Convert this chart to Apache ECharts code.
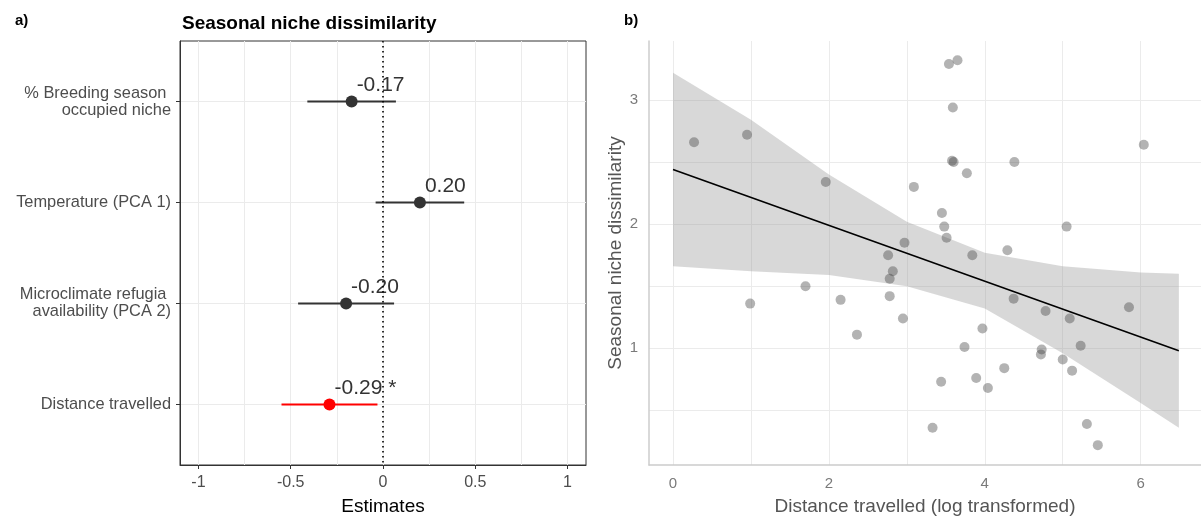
<!DOCTYPE html>
<html>
<head>
<meta charset="utf-8">
<script src="https://cdn.jsdelivr.net/npm/echarts@6/dist/echarts.min.js"></script>
<style>
  html, body { margin: 0; padding: 0; background: #fff; }
  #chart { width: 1201px; height: 517px; }
</style>
</head>
<body>
<div id="chart"></div>
<script>
// a) model estimates
const terms = [
  "% Breeding season \noccupied niche",
  "Temperature (PCA 1)",
  "Microclimate refugia \navailability (PCA 2)",
  "Distance travelled"
];
const estimates = [-0.17, 0.20, -0.20, -0.29];
const ciLow = [-0.41, -0.04, -0.46, -0.55];
const ciHigh = [0.07, 0.44, 0.06, -0.03];
const estLabels = ["-0.17", "0.20", "-0.20", "-0.29 *"];
const significant = [false, false, false, true];
const estTicks = [-1, -0.5, 0, 0.5, 1];
const estGrid = [-1, -0.75, -0.5, -0.25, 0, 0.25, 0.5, 0.75, 1];

// b) distance vs dissimilarity
const distance = [0.27, 0.95, 1.96, 0.99, 1.70, 2.15, 2.36, 2.76, 2.82, 2.78, 2.78, 2.95,
  3.97, 3.74, 4.37, 4.25, 3.89, 4.04, 3.44, 3.33, 3.54, 3.65, 3.59, 3.58, 3.60, 4.38,
  6.04, 3.77, 3.09, 3.45, 3.48, 3.51, 2.97, 5.05, 4.29, 3.84, 4.78, 5.09, 5.85, 5.23,
  4.73, 4.72, 5.00, 5.12, 5.31, 5.45];
const dissim = [2.66, 2.72, 2.34, 1.36, 1.50, 1.39, 1.11, 1.75, 1.62, 1.56, 1.42, 1.24,
  1.16, 1.01, 1.40, 0.84, 0.76, 0.68, 0.73, 0.36, 3.29, 3.32, 2.94, 2.51, 2.50, 2.50,
  2.64, 2.41, 2.30, 2.09, 1.98, 1.89, 1.85, 1.98, 1.79, 1.75, 1.30, 1.24, 1.33, 1.02,
  0.99, 0.95, 0.91, 0.82, 0.39, 0.22];
const fitX = [0, 6.49];
const fitY = [2.44, 0.98];
const bandX = [0, 1, 2, 3, 4, 5, 6, 6.49];
const bandUpper = [3.22, 2.84, 2.40, 2.02, 1.77, 1.66, 1.61, 1.60];
const bandLower = [1.66, 1.62, 1.59, 1.50, 1.32, 0.96, 0.56, 0.36];
const distTicks = [0, 2, 4, 6];
const distGrid = [0, 1, 2, 3, 4, 5, 6];
const dissTicks = [1, 2, 3];
const dissGrid = [0.5, 1, 1.5, 2, 2.5, 3];

const dark = "#333333";
const red = "#ff0000";
const gridLine = { lineStyle: { color: "#ebebeb", width: 1 } };

const chart = echarts.init(document.getElementById("chart"));
chart.setOption({
  animation: false,
  textStyle: { fontFamily: "Liberation Sans, Arial, sans-serif" },
  title: [
    { text: "a)", left: 10, top: 8, textStyle: { fontSize: 15, fontWeight: "bold", color: "#000" } },
    { text: "Seasonal niche dissimilarity", left: 177, top: 9,
      textStyle: { fontSize: 19, fontWeight: "bold", color: "#000" } },
    { text: "b)", left: 619, top: 8, textStyle: { fontSize: 15, fontWeight: "bold", color: "#000" } }
  ],
  grid: [
    { left: 180, top: 41, width: 406, height: 424, show: true, borderColor: dark, borderWidth: 1,
      outerBoundsMode: "none" },
    { left: 649, top: 41, right: 0, bottom: 52, outerBoundsMode: "none" }
  ],
  xAxis: [
    {
      gridIndex: 0, type: "value", min: -1.1, max: 1.1,
      name: "Estimates", nameLocation: "middle", nameGap: 32,
      nameTextStyle: { fontSize: 19, color: "#000" },
      axisLine: { show: true, onZero: false, lineStyle: { color: dark } },
      axisTick: { show: true, length: 4, lineStyle: { color: dark }, customValues: estTicks },
      axisLabel: { customValues: estTicks, fontSize: 16, color: "#4d4d4d", margin: 10 },
      splitLine: { show: false }
    },
    {
      gridIndex: 0, type: "value", min: -1.1, max: 1.1, position: "bottom",
      axisLine: { show: false }, axisLabel: { show: false },
      axisTick: { show: false, customValues: estGrid },
      splitLine: { show: true, lineStyle: { color: "#ebebeb", width: 1 } }
    },
    {
      gridIndex: 1, type: "value", min: -0.308, max: 6.774,
      name: "Distance travelled (log transformed)", nameLocation: "middle", nameGap: 32,
      nameTextStyle: { fontSize: 19, color: "#555" },
      axisLine: { show: true, onZero: false, lineStyle: { color: "#cccccc", width: 1.5 } },
      axisTick: { show: false, customValues: distGrid },
      axisLabel: { customValues: distTicks, fontSize: 15, color: "#7a7a7a", margin: 11 },
      splitLine: gridLine
    }
  ],
  yAxis: [
    {
      gridIndex: 0, type: "value", min: 0.4, max: 4.6, inverse: true,
      axisLine: { show: true, onZero: false, lineStyle: { color: dark } },
      axisTick: { show: true, length: 4, lineStyle: { color: dark }, customValues: [1, 2, 3, 4] },
      axisLabel: {
        customValues: [1, 2, 3, 4], fontSize: 16.4, color: "#4d4d4d", margin: 9,
        lineHeight: 17, align: "right",
        formatter: (v) => terms[Math.round(v) - 1]
      },
      splitLine: { show: true, lineStyle: { color: "#ebebeb", width: 1 } }
    },
    {
      gridIndex: 1, type: "value", min: 0.06, max: 3.475,
      name: "Seasonal niche dissimilarity", nameLocation: "middle", nameGap: 22,
      nameTextStyle: { fontSize: 19, color: "#555" },
      axisLine: { show: true, onZero: false, lineStyle: { color: "#cccccc", width: 1.5 } },
      axisTick: { show: false, customValues: dissGrid },
      axisLabel: { customValues: dissTicks, fontSize: 15, color: "#7a7a7a", margin: 11 },
      splitLine: gridLine
    }
  ],
  series: [
    {
      // confidence intervals
      type: "custom", xAxisIndex: 0, yAxisIndex: 0,
      data: terms.map((t, i) => [ciLow[i], ciHigh[i], i + 1]),
      encode: { x: [0, 1], y: 2 },
      renderItem: (params, api) => {
        const a = api.coord([api.value(0), api.value(2)]);
        const b = api.coord([api.value(1), api.value(2)]);
        return {
          type: "line",
          shape: { x1: a[0], y1: a[1], x2: b[0], y2: b[1] },
          style: { stroke: significant[params.dataIndex] ? red : dark, lineWidth: 2 }
        };
      },
      z: 2
    },
    {
      type: "scatter", xAxisIndex: 0, yAxisIndex: 0,
      data: estimates.map((v, i) => [v, i + 1]),
      symbolSize: 12,
      itemStyle: { color: (p) => (significant[p.dataIndex] ? red : dark), opacity: 1 },
      label: {
        show: true, position: "inside", align: "left", verticalAlign: "middle",
        offset: [5, -16], fontSize: 21, color: dark,
        formatter: (p) => estLabels[p.dataIndex]
      },
      markLine: {
        silent: true, symbol: "none", label: { show: false },
        lineStyle: { color: "#000", type: [1.5, 3.5], width: 1.6 },
        data: [{ xAxis: 0 }]
      },
      z: 3
    },
    {
      // confidence band of the fit
      type: "custom", xAxisIndex: 2, yAxisIndex: 1,
      data: [[bandX[0], bandLower[0]]],
      renderItem: (params, api) => {
        const top = bandX.map((x, i) => api.coord([x, bandUpper[i]]));
        const bottom = bandX.map((x, i) => api.coord([x, bandLower[i]])).reverse();
        return {
          type: "polygon",
          shape: { points: top.concat(bottom) },
          style: { fill: "rgba(153,153,153,0.38)" }
        };
      },
      z: 1
    },
    {
      type: "scatter", xAxisIndex: 2, yAxisIndex: 1,
      data: distance.map((x, i) => [x, dissim[i]]),
      symbolSize: 10,
      itemStyle: { color: "rgba(64,64,64,0.5)" },
      z: 2
    },
    {
      type: "line", xAxisIndex: 2, yAxisIndex: 1,
      data: fitX.map((x, i) => [x, fitY[i]]),
      symbol: "none",
      lineStyle: { color: "#000", width: 1.6 },
      z: 3
    }
  ]
});
</script>
</body>
</html>
